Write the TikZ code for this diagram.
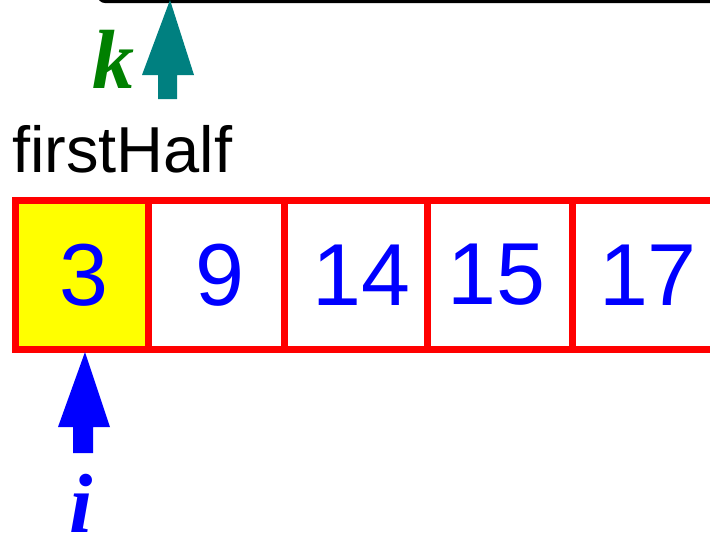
\documentclass[tikz,border=0pt]{standalone}
\usepackage{fontspec}
\setmainfont{Liberation Sans}
\newfontfamily\serifbi[BoldItalicFont={* Bold Italic}]{Liberation Serif}
\definecolor{tealc}{RGB}{0,128,128}
\definecolor{greenk}{RGB}{0,128,0}
\definecolor{blueT}{RGB}{0,0,255}
\definecolor{yellowc}{RGB}{255,255,0}
\begin{document}
\begin{tikzpicture}[x=1pt,y=-1pt,
  cellbox/.style={draw=red,line width=7pt,inner sep=0pt,minimum height=149pt},
  numtext/.style={text=blueT,inner sep=0pt,font=\fontsize{88}{88}\selectfont},
  lbl/.style={inner sep=0pt,font=\serifbi\bfseries\itshape\fontsize{84}{84}\selectfont}]
\useasboundingbox (0,0) rectangle (710,541);
\clip (0,0) rectangle (710,541);
% top box edge
\draw[line width=3pt,rounded corners=6pt] (99,-30) -- (99,1.5) -- (760,1.5);
% cells
\node[cellbox,fill=yellowc,minimum width=132.5pt] (c1) at (81.75,275) {};
\node[cellbox,minimum width=136pt] (c2) at (216,275) {};
\node[cellbox,minimum width=143pt] (c3) at (355.5,275) {};
\node[cellbox,minimum width=145pt] (c4) at (499.5,275) {};
\node[cellbox,minimum width=144pt] (c5) at (644,275) {};
\node[numtext] (n1) at ([xshift=2.5pt]c1.center) {3};
\node[numtext] (n2) at ([xshift=4pt]c2.center) {9};
\node[numtext] (n3) at ([xshift=6pt]c3.center) {14};
\node[numtext] (n4) at ([xshift=-3pt]c4.center) {15};
\node[numtext] (n5) at ([xshift=4pt]c5.center) {17};
% label
\node[inner sep=0pt,anchor=base west,font=\fontsize{65}{65}\selectfont] (fh) at (12,172) {firstHalf};
% teal arrow k
\fill[tealc] (170,0) -- (194,75) -- (177,75) -- (177,99) -- (158,99) -- (158,75) -- (142,75) -- cycle;
\node[lbl,text=greenk,anchor=base] (k) at (113,88) {k};
% blue arrow i
\fill[blueT] (85,352) -- (110,427) -- (93,427) -- (93,453) -- (73,453) -- (73,427) -- (58,427) -- cycle;
\node[lbl,text=blueT,anchor=base] (i) at (81,532) {i};
\end{tikzpicture}
\end{document}
